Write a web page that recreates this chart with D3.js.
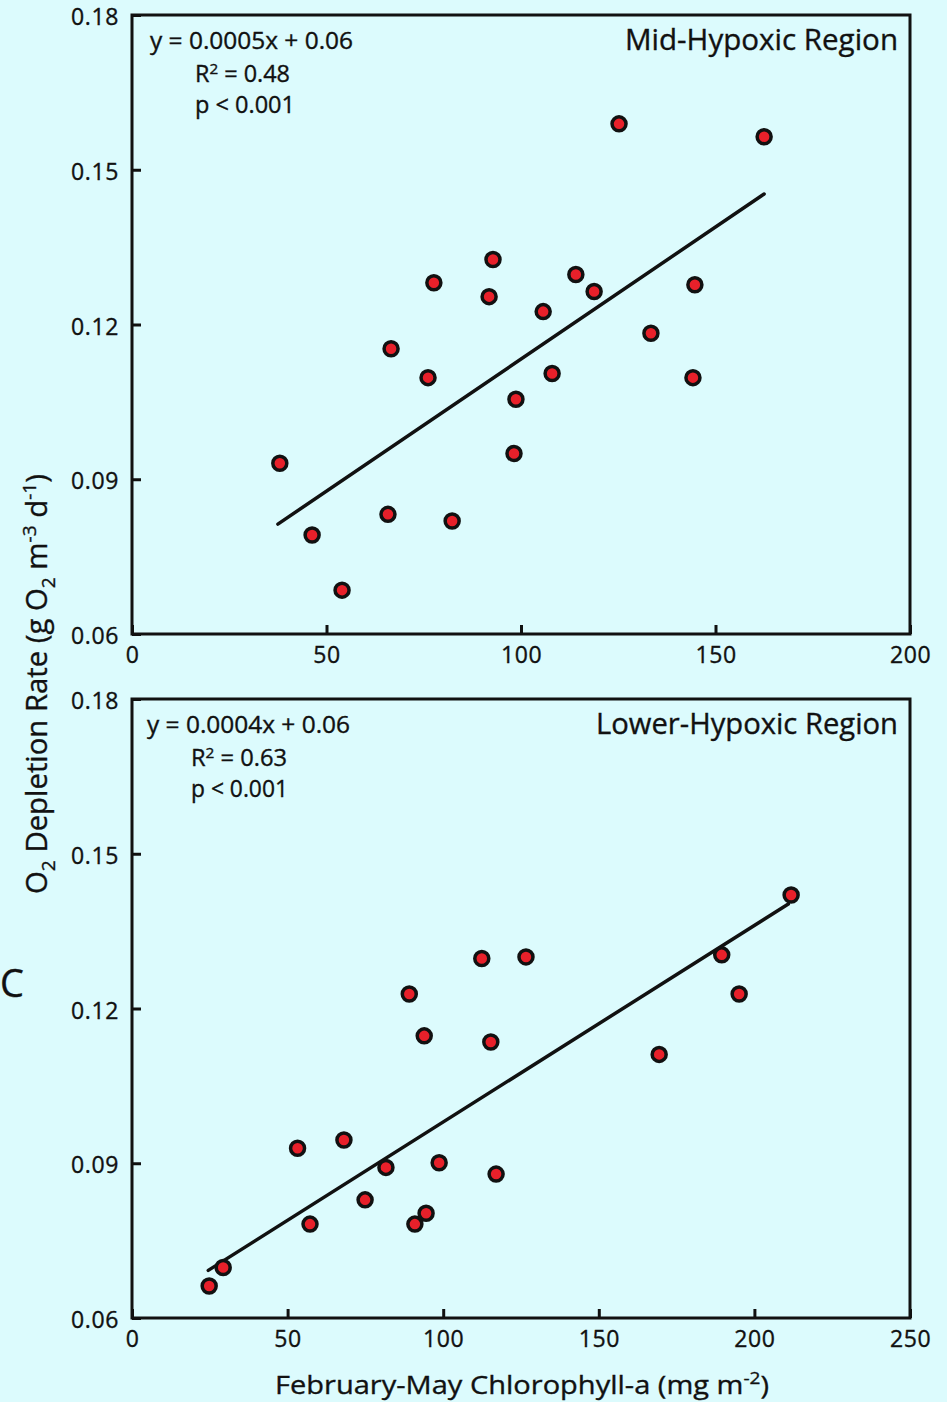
<!DOCTYPE html>
<html>
<head>
<meta charset="utf-8">
<script src="https://cdn.jsdelivr.net/npm/d3@7"></script>
<style>
  html, body { margin: 0; padding: 0; background: #dcfbfd; }
  svg { display: block; font-family: "Open Sans", "Noto Sans", sans-serif; }
  svg text { stroke: #111; stroke-width: 0.35px; }
</style>
</head>
<body>
<svg id="chart" width="947" height="1402"></svg>
<script>
// Mid-hypoxic region: Feb–May chlorophyll-a (mg m-2) vs O2 depletion rate (g O2 m-3 d-1)
const midChl  = [38.0, 46.3, 54.0, 65.8, 66.6, 76.1, 77.6, 82.3, 91.8, 92.8, 98.2,
                 98.7, 105.7, 108.0, 114.1, 118.8, 125.2, 133.4, 144.2, 144.7, 162.5];
const midRate = [0.0931, 0.0792, 0.0685, 0.0832, 0.1153, 0.1097, 0.1281, 0.0819, 0.1254, 0.1326, 0.0950,
                 0.1055, 0.1225, 0.1105, 0.1297, 0.1264, 0.1589, 0.1183, 0.1097, 0.1277, 0.1564];

// Lower-hypoxic region
const lowerChl  = [24.8, 29.3, 53.2, 57.2, 68.1, 74.9, 81.6, 90.9, 94.5, 98.7,
                   89.1, 93.9, 112.4, 115.3, 117.0, 126.6, 169.4, 189.5, 195.1, 211.8];
const lowerRate = [0.0662, 0.0698, 0.0929, 0.0782, 0.0945, 0.0829, 0.0892, 0.0782, 0.0803, 0.0901,
                   0.1228, 0.1147, 0.1297, 0.1135, 0.0879, 0.1300, 0.1111, 0.1304, 0.1228, 0.1420];

// Linear fits (slope, intercept) and the chlorophyll span each fit line covers
const fitSlopes     = [0.000512, 0.000381];
const fitIntercepts = [0.0621, 0.0599];
const fitStart      = [37.5, 24.5];
const fitEnd        = [162.5, 210.9];

// Axis ticks
const rateTicks   = [0.06, 0.09, 0.12, 0.15, 0.18];
const midXTicks   = [0, 50, 100, 150, 200];
const lowerXTicks = [0, 50, 100, 150, 200, 250];

// Panel text
const panelTitles = ["Mid-Hypoxic Region", "Lower-Hypoxic Region"];
const equations   = ["y = 0.0005x + 0.06", "y = 0.0004x + 0.06"];
const rSquared    = ["0.48", "0.63"];
const pValues     = ["p < 0.001", "p < 0.001"];

const svg = d3.select("#chart");
const INK = "#111";

const panels = [
  { chl: midChl, rate: midRate, xMax: 200, xTicks: midXTicks, top: 15, bottom: 634,
    eqX: 150, eqW: 203, statX: 195, r2W: 95, pW: 100, titleW: 273 },
  { chl: lowerChl, rate: lowerRate, xMax: 250, xTicks: lowerXTicks, top: 699, bottom: 1318,
    eqX: 147, eqW: 203, statX: 191, r2W: 96, pW: 97, titleW: 302 }
];
const left = 132, right = 910;

panels.forEach((p, i) => {
  const x = d3.scaleLinear().domain([0, p.xMax]).range([left, right]);
  const y = d3.scaleLinear().domain([0.06, 0.18]).range([p.bottom, p.top]);
  const g = svg.append("g");

  // y axis with inward ticks
  const yAx = g.append("g").attr("transform", `translate(${left},0)`)
    .call(d3.axisLeft(y).tickValues(rateTicks).tickFormat(d3.format(".2f"))
      .tickSize(-9).tickSizeOuter(0).tickPadding(13));
  // x axis with inward ticks
  const xAx = g.append("g").attr("transform", `translate(0,${p.bottom})`)
    .call(d3.axisBottom(x).tickValues(p.xTicks).tickFormat(d3.format("d"))
      .tickSize(-9).tickSizeOuter(0).tickPadding(13));
  [yAx, xAx].forEach(ax => {
    ax.select(".domain").remove();
    ax.selectAll(".tick line").attr("stroke", INK).attr("stroke-width", 3);
    ax.selectAll(".tick text").attr("fill", INK).attr("font-size", 23)
      .attr("letter-spacing", 0.6)
      .attr("font-family", "\"Open Sans\", sans-serif");
  });
  yAx.selectAll(".tick text").attr("dy", "0.42em");

  // plot frame
  g.append("rect")
    .attr("x", left).attr("y", p.top)
    .attr("width", right - left).attr("height", p.bottom - p.top)
    .attr("fill", "none").attr("stroke", INK).attr("stroke-width", 3);

  // regression line
  const fx = [fitStart[i], fitEnd[i]];
  g.append("path")
    .datum(fx)
    .attr("d", d3.line().x(d => x(d)).y(d => y(fitSlopes[i] * d + fitIntercepts[i])))
    .attr("stroke", INK).attr("stroke-width", 3.5).attr("fill", "none")
    .attr("stroke-linecap", "round");

  // observations
  g.append("g").selectAll("circle")
    .data(d3.range(p.chl.length))
    .join("circle")
    .attr("cx", k => x(p.chl[k]))
    .attr("cy", k => y(p.rate[k]))
    .attr("r", 7)
    .attr("fill", "#e8202a")
    .attr("stroke", INK).attr("stroke-width", 3.5);

  // statistics
  const stat = g.append("g").attr("fill", INK).attr("font-size", 23);
  stat.append("text").attr("x", p.eqX).attr("y", p.top + 34)
    .attr("textLength", p.eqW).attr("lengthAdjust", "spacingAndGlyphs")
    .text(equations[i]);
  const r2 = stat.append("text").attr("x", p.statX).attr("y", p.top + 67)
    .attr("textLength", p.r2W).attr("lengthAdjust", "spacingAndGlyphs");
  r2.append("tspan").text("R");
  r2.append("tspan").attr("font-size", 15).attr("dy", -8).text("2");
  r2.append("tspan").attr("dy", 8).text(" = " + rSquared[i]);
  stat.append("text").attr("x", p.statX).attr("y", p.top + 98)
    .attr("textLength", p.pW).attr("lengthAdjust", "spacingAndGlyphs")
    .text(pValues[i]);

  // region title
  g.append("text").attr("x", 898).attr("y", p.top + 35)
    .attr("text-anchor", "end").attr("font-size", 29).attr("fill", INK)
    .attr("textLength", p.titleW).attr("lengthAdjust", "spacingAndGlyphs")
    .text(panelTitles[i]);
});

// shared y-axis title
const yt = svg.append("text")
  .attr("transform", "translate(47,684) rotate(-90)")
  .attr("text-anchor", "middle").attr("font-size", 29).attr("fill", INK)
  .attr("textLength", 420).attr("lengthAdjust", "spacingAndGlyphs");
yt.append("tspan").text("O");
yt.append("tspan").attr("font-size", 19).attr("dy", 8).text("2");
yt.append("tspan").attr("dy", -8).text(" Depletion Rate (g O");
yt.append("tspan").attr("font-size", 19).attr("dy", 8).text("2");
yt.append("tspan").attr("dy", -8).text(" m");
yt.append("tspan").attr("font-size", 19).attr("dy", -11).text("-3");
yt.append("tspan").attr("dy", 11).text(" d");
yt.append("tspan").attr("font-size", 19).attr("dy", -11).text("-1");
yt.append("tspan").attr("dy", 11).text(")");

// shared x-axis title
const xt = svg.append("text")
  .attr("x", 522).attr("y", 1394)
  .attr("text-anchor", "middle").attr("font-size", 26).attr("fill", INK)
  .attr("textLength", 494).attr("lengthAdjust", "spacingAndGlyphs");
xt.append("tspan").text("February-May Chlorophyll-a (mg m");
xt.append("tspan").attr("font-size", 17).attr("dy", -10).text("-2");
xt.append("tspan").attr("dy", 10).text(")");

// panel letter
svg.append("text").attr("x", 0).attr("y", 997)
  .attr("font-size", 38).attr("fill", INK).text("C");
</script>
</body>
</html>
